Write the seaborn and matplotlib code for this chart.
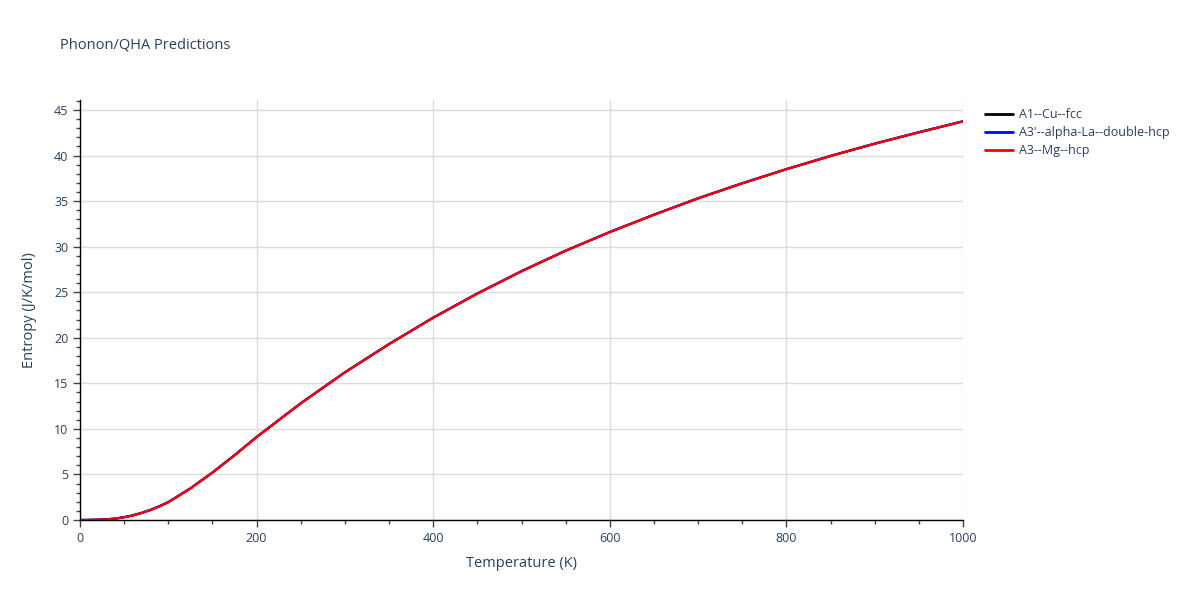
import numpy as np
import pandas as pd
import seaborn as sns
import matplotlib.pyplot as plt
from matplotlib.ticker import MultipleLocator

# Temperature grid (K) and entropy values (J/K/mol)
temperature = [0, 10, 20, 30, 40, 50, 60, 70, 80, 90, 100, 125, 150, 175, 200,
               250, 300, 350, 400, 450, 500, 550, 600, 650, 700, 750, 800,
               850, 900, 950, 1000]
entropy_cu = [0.0, 0.01, 0.03, 0.07, 0.15, 0.3, 0.5, 0.78, 1.1, 1.5, 1.95, 3.45,
              5.2, 7.1, 9.1, 12.8, 16.2, 19.3, 22.2, 24.85, 27.3, 29.55, 31.6,
              33.5, 35.3, 36.95, 38.5, 39.95, 41.3, 42.55, 43.75]
entropy_la = [0.0, 0.01, 0.03, 0.08, 0.16, 0.32, 0.52, 0.8, 1.13, 1.53, 1.98, 3.48,
              5.22, 7.12, 9.12, 12.82, 16.22, 19.32, 22.22, 24.87, 27.32, 29.57,
              31.62, 33.52, 35.32, 36.97, 38.52, 39.97, 41.32, 42.57, 43.77]
entropy_mg = [0.0, 0.01, 0.03, 0.07, 0.15, 0.3, 0.5, 0.78, 1.1, 1.5, 1.95, 3.45,
              5.2, 7.1, 9.1, 12.8, 16.2, 19.3, 22.2, 24.85, 27.3, 29.55, 31.6,
              33.5, 35.3, 36.95, 38.5, 39.95, 41.3, 42.55, 43.75]

labels = ["A1--Cu--fcc", "A3'--alpha-La--double-hcp", "A3--Mg--hcp"]
colors = ["black", "blue", "red"]

df = pd.concat([
    pd.DataFrame({"T": temperature, "S": entropy_cu, "phase": labels[0]}),
    pd.DataFrame({"T": temperature, "S": entropy_la, "phase": labels[1]}),
    pd.DataFrame({"T": temperature, "S": entropy_mg, "phase": labels[2]}),
])

sns.set_style("white")
plt.rcParams['font.family'] = ['Open Sans', 'DejaVu Sans']
text_color = "#2a3f5f"
tick_color = "#444444"

fig = plt.figure(figsize=(12, 6), dpi=100)
ax = fig.add_axes([80 / 1200, 80 / 600, 883 / 1200, 420 / 600])

sns.lineplot(data=df, x="T", y="S", hue="phase", palette=dict(zip(labels, colors)),
             linewidth=1.6, ax=ax, legend=False)

ax.set_xlim(0, 1000)
ax.set_ylim(0, 46.1)
ax.xaxis.set_major_locator(MultipleLocator(200))
ax.xaxis.set_minor_locator(MultipleLocator(50))
ax.yaxis.set_major_locator(MultipleLocator(5))
ax.yaxis.set_minor_locator(MultipleLocator(1))
ax.grid(True, which="major", color="#dcdcdc", linewidth=1)
ax.set_axisbelow(True)

for side in ["top", "right"]:
    ax.spines[side].set_visible(False)
for side in ["left", "bottom"]:
    ax.spines[side].set_color("black")
    ax.spines[side].set_linewidth(1)

ax.tick_params(which="major", direction="out", length=5, width=1, color=tick_color,
               labelsize=9, labelcolor=text_color, left=True, bottom=True)
ax.tick_params(which="minor", direction="out", length=3, width=1, color=tick_color,
               left=True, bottom=True)

ax.set_xlabel("Temperature (K)", fontsize=10.5, color=text_color, labelpad=8)
ax.set_ylabel("Entropy (J/K/mol)", fontsize=10.5, color=text_color, labelpad=12)

fig.text(60 / 1200, 1 - 45 / 600, "Phonon/QHA Predictions", fontsize=10.5,
         color=text_color, va="center", ha="left")

handles = [plt.Line2D([0], [0], color=c, linewidth=2) for c in colors]
fig.legend(handles, labels, loc="upper left", bbox_to_anchor=(980 / 1200, 1 - 103 / 600),
           frameon=False, fontsize=9, labelcolor=text_color, handlelength=2.2,
           handletextpad=0.5, labelspacing=0.4, borderaxespad=0)

fig.savefig("out.png", dpi=100)
